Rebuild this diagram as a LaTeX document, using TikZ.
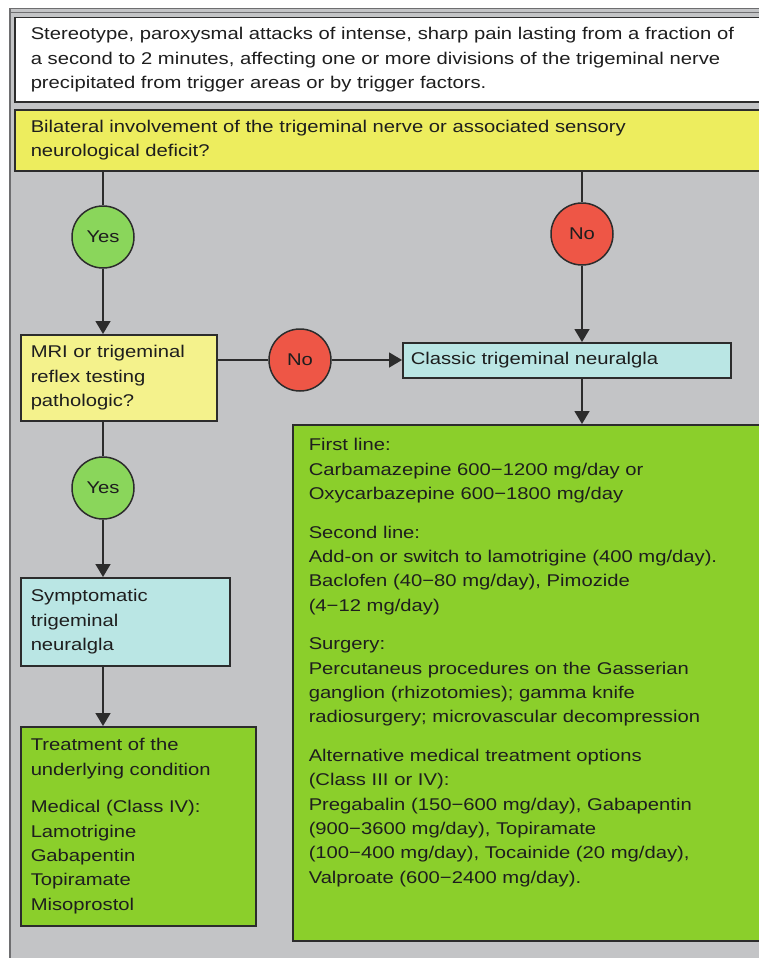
\documentclass[tikz,border=0pt]{standalone}
\usepackage{fontspec}
\setmainfont{Liberation Sans}[FakeStretch=1.19]
\usetikzlibrary{arrows.meta, positioning, calc}
\definecolor{cBack}{HTML}{C3C4C6}
\definecolor{cFrame}{HTML}{6E6E70}
\definecolor{cQuest}{HTML}{EDED5E}
\definecolor{cMri}{HTML}{F4F28C}
\definecolor{cDiag}{HTML}{BAE6E4}
\definecolor{cTreat}{HTML}{8BCF2B}
\definecolor{cYes}{HTML}{8AD65B}
\definecolor{cNo}{HTML}{EE5646}
\definecolor{cLine}{HTML}{2C2C2C}
\definecolor{cText}{HTML}{1E1E1E}
\tikzset{
  every node/.style={font=\fontsize{17pt}{24.4pt}\selectfont, text=cText},
  box/.style={draw=cLine, line width=1.5pt, anchor=north west, align=left,
    inner ysep=0pt},
  critbox/.style={box, fill=white},
  questbox/.style={box, fill=cQuest},
  mribox/.style={box, fill=cMri},
  diagbox/.style={box, fill=cDiag},
  treatbox/.style={box, fill=cTreat},
  decision/.style={circle, draw=cLine, line width=1.5pt, minimum size=62pt,
    inner sep=0pt},
  yesnode/.style={decision, fill=cYes},
  nonode/.style={decision, fill=cNo},
  link/.style={line width=1.5pt, draw=cLine},
  flow/.style={link, -{Triangle[length=13pt, width=15pt]}},
}

\begin{document}
\begin{tikzpicture}[x=1pt, y=-1pt]
  \useasboundingbox (0,0) rectangle (758,958);

  % background panel
  \fill[cBack] (10,8) rectangle (775,975);
  \draw[cFrame, line width=1.2pt] (10,975) -- (10,8.5) -- (775,8.5);
  \draw[cFrame, line width=0.8pt] (10,12) -- (775,12);

  % ----------------------------------------------------------------
  % Criteria and first question
  % ----------------------------------------------------------------
  \node[critbox, minimum width=760pt, minimum height=84pt, text width=728pt,
    inner xsep=14pt] (crit) at (14,17)
    {Stereotype, paroxysmal attacks of intense, sharp pain lasting from a fraction of\\
     a second to 2 minutes, affecting one or more divisions of the trigeminal nerve\\
     precipitated from trigger areas or by trigger factors.};

  \node[questbox, minimum width=760pt, minimum height=61pt, text width=728pt,
    inner xsep=14pt] (bilat) at (14,109)
    {Bilateral involvement of the trigeminal nerve or associated sensory\\
     neurological deficit?};

  \node[yesnode] (yes1) at (103,237) {Yes};
  \node[nonode]  (no1)  at (582,234) {No};

  % ----------------------------------------------------------------
  % Second question and diagnoses
  % ----------------------------------------------------------------
  \node[mribox, minimum width=196pt, minimum height=86pt, text width=176pt,
    inner xsep=10pt] (mri) at (20,334)
    {MRI or trigeminal\\ reflex testing\\ pathologic?};

  \node[nonode] (no2) at (300,360) {No};

  \node[diagbox, minimum width=328pt, minimum height=35pt, text width=312pt,
    inner xsep=8pt] (classic) at (402,342)
    {Classic trigeminal neuralgla};

  \node[yesnode] (yes2) at (103,488) {Yes};

  \node[diagbox, minimum width=209pt, minimum height=88pt, text width=189pt,
    inner xsep=10pt] (sympt) at (20,577)
    {Symptomatic\\ trigeminal\\ neuralgla};

  % ----------------------------------------------------------------
  % Treatment boxes
  % ----------------------------------------------------------------
  \node[treatbox, minimum width=235pt, minimum height=199pt, text width=215pt,
    inner xsep=10pt] (underly) at (20,726)
    {Treatment of the\\ underlying condition\\[13pt]
     Medical (Class IV):\\ Lamotrigine\\ Gabapentin\\ Topiramate\\ Misoprostol};

  \node[treatbox, minimum width=483pt, minimum height=516pt, text width=451pt,
    inner xsep=16pt] (classtreat) at (292,424)
    {First line:\\
     Carbamazepine 600−1200 mg/day or\\
     Oxycarbazepine 600−1800 mg/day\\[14pt]
     Second line:\\
     Add-on or switch to lamotrigine (400 mg/day).\\
     Baclofen (40−80 mg/day), Pimozide\\
     (4−12 mg/day)\\[14pt]
     Surgery:\\
     Percutaneus procedures on the Gasserian\\
     ganglion (rhizotomies); gamma knife\\
     radiosurgery; microvascular decompression\\[14pt]
     Alternative medical treatment options\\
     (Class III or IV):\\
     Pregabalin (150−600 mg/day), Gabapentin\\
     (900−3600 mg/day), Topiramate\\
     (100−400 mg/day), Tocainide (20 mg/day),\\
     Valproate (600−2400 mg/day).\par\vspace*{40pt}};

  % ----------------------------------------------------------------
  % Connectors
  % ----------------------------------------------------------------
  \draw[link] (bilat.south -| yes1) -- (yes1);
  \draw[flow] (yes1) -- (mri.north -| yes1);
  \draw[link] (bilat.south -| no1) -- (no1);
  \draw[flow] (no1) -- (classic.north -| no1);
  \draw[link] (mri.east |- no2) -- (no2);
  \draw[flow] (no2) -- (classic.west |- no2);
  \draw[flow] (classic.south -| no1) -- (classtreat.north -| no1);
  \draw[link] (mri.south -| yes2) -- (yes2);
  \draw[flow] (yes2) -- (sympt.north -| yes2);
  \draw[flow] (sympt.south -| yes2) -- (underly.north -| yes2);

\end{tikzpicture}
\end{document}
